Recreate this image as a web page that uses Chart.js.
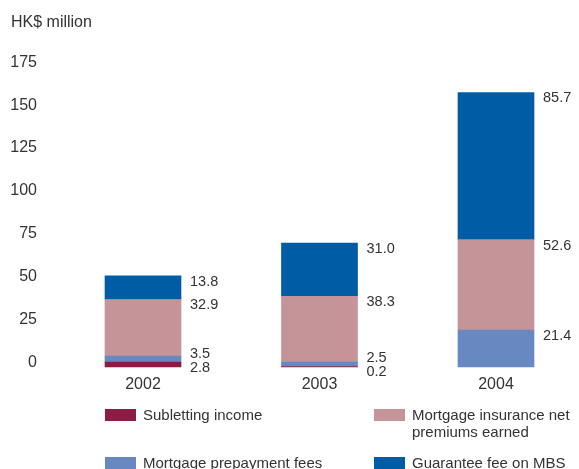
<!DOCTYPE html>
<html lang="en">
<head>
<meta charset="UTF-8" />
<title>Income breakdown</title>
<script src="https://cdn.jsdelivr.net/npm/chart.js"></script>
<style>
  html, body { margin: 0; padding: 0; background: #fff; }
</style>
</head>
<body>
<canvas id="incomeChart" width="579" height="469"></canvas>
<script>
// HK$ million, one value per year
const years = ["2002", "2003", "2004"];
const seriesNames = [
  "Subletting income",
  "Mortgage prepayment fees",
  "Mortgage insurance net premiums earned",
  "Guarantee fee on MBS"
];
const subletting = [2.8, 0.2, null];
const prepayment = [3.5, 2.5, 21.4];
const insurance = [32.9, 38.3, 52.6];
const guarantee = [13.8, 31.0, 85.7];
const yTicks = [0, 25, 50, 75, 100, 125, 150, 175];

const colours = ["#8b1d45", "#6788c0", "#c49499", "#005ca5"];
const FONT = "'Liberation Sans', Arial, sans-serif";
const TEXT = "#333";

// value next to the top of each segment, pushed up when two would collide
const valueLabels = {
  id: "valueLabels",
  afterDatasetsDraw(chart) {
    const ctx = chart.ctx;
    ctx.save();
    ctx.font = "14.5px " + FONT;
    ctx.fillStyle = TEXT;
    ctx.textAlign = "left";
    ctx.textBaseline = "middle";
    years.forEach((yr, i) => {
      let prev = Infinity;
      chart.data.datasets.forEach((ds, d) => {
        const v = ds.data[i];
        if (v == null || v === 0) return;
        const bar = chart.getDatasetMeta(d).data[i];
        const ty = Math.min(bar.y + 6, prev - 14);
        ctx.fillText(v.toFixed(1), bar.x + bar.width / 2 + 9, ty);
        prev = ty;
      });
    });
    ctx.restore();
  }
};

// two-column legend under the axis, filled column by column
const bottomLegend = {
  id: "bottomLegend",
  afterDraw(chart) {
    const ctx = chart.ctx;
    const colX = [105, 374];
    const rowY = [409, 457];
    ctx.save();
    ctx.font = "15px " + FONT;
    ctx.textAlign = "left";
    ctx.textBaseline = "middle";
    chart.data.datasets.forEach((ds, d) => {
      const x = colX[Math.floor(d / 2)];
      const y = rowY[d % 2];
      ctx.fillStyle = ds.backgroundColor;
      ctx.fillRect(x, y, 31, 12);
      ctx.fillStyle = TEXT;
      // wrap long names onto a second line
      const words = ds.label.split(" ");
      const lines = [];
      let line = "";
      words.forEach(w => {
        const test = line ? line + " " + w : w;
        if (ctx.measureText(test).width > 185 && line) {
          lines.push(line);
          line = w;
        } else {
          line = test;
        }
      });
      lines.push(line);
      lines.forEach((l, k) => ctx.fillText(l, x + 38, y + 7 + k * 17));
    });
    ctx.restore();
  }
};

const series = [subletting, prepayment, insurance, guarantee];

new Chart(document.getElementById("incomeChart"), {
  type: "bar",
  data: {
    labels: years,
    datasets: series.map((vals, d) => ({
      label: seriesNames[d],
      data: vals,
      backgroundColor: colours[d],
      borderWidth: 0,
      barThickness: 76,
      clip: false
    }))
  },
  options: {
    responsive: false,
    animation: false,
    layout: { padding: { left: 11, right: 83, top: 0, bottom: 67 } },
    plugins: {
      legend: { display: false },
      tooltip: { enabled: false },
      title: {
        display: true,
        text: "HK$ million",
        align: "start",
        color: TEXT,
        font: { family: FONT, size: 16, weight: "normal" },
        padding: { top: 13, bottom: 34 }
      }
    },
    scales: {
      x: {
        stacked: true,
        offset: false,
        grid: { display: false, drawTicks: false },
        border: { display: false },
        ticks: { color: TEXT, padding: 8, font: { family: FONT, size: 16 } }
      },
      y: {
        stacked: true,
        min: yTicks[0],
        max: yTicks[yTicks.length - 1],
        afterBuildTicks: scale => { scale.ticks = yTicks.map(v => ({ value: v })); },
        // wide gap between the tick labels and the first bar
        afterFit: scale => {
          scale.width = 132;
          scale.paddingTop = 0;
          scale.paddingBottom = 0;
        },
        grid: { display: false, drawTicks: false },
        border: { display: false },
        ticks: { color: TEXT, padding: 106, labelOffset: -4, font: { family: FONT, size: 16 } }
      }
    }
  },
  plugins: [valueLabels, bottomLegend]
});
</script>
</body>
</html>
